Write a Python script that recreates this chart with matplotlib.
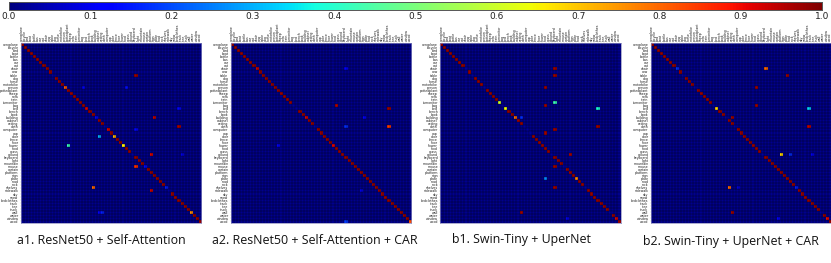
import numpy as np
import matplotlib
matplotlib.use("Agg")
import matplotlib.pyplot as plt

classes = ["aeroplane", "bicycle", "bird", "boat", "bottle", "bus", "car", "cat", "chair", "cow",
           "table", "dog", "horse", "motorbike", "person", "pottedplant", "sheep", "sofa", "train",
           "tvmonitor", "bag", "bed", "bench", "book", "building", "cabinet", "ceiling", "cloth",
           "computer", "cup", "door", "fence", "floor", "flower", "food", "grass", "ground",
           "keyboard", "light", "mountain", "mouse", "curtain", "platform", "sign", "plate", "road",
           "rock", "shelves", "sidewalk", "sky", "snow", "bedclothes", "track", "tree", "truck",
           "wall", "water", "window", "wood"]

# diagonal accuracy, one value per class
diag_a1 = [.98, .98, .98, .98, .98, .98, .98, .98, .98, .98, .03, .98, .98, .98, .82, .98, .98, .98, .98, .98,
           .98, .92, .98, .98, .12, .98, .98, .03, .92, .98, .72, .98, .98, .66, .98, .98, .03, .98, .98, .98,
           .13, .98, .98, .98, .98, .98, .98, .15, .03, .98, .98, .98, .98, .98, .98, .76, .98, .98, .98]
diag_a2 = [.98, .98, .98, .98, .98, .98, .98, .98, .93, .98, .98, .98, .98, .98, .98, .98, .98, .98, .98, .98,
           .03, .03, .98, .98, .92, .98, .98, .03, .98, .98, .98, .98, .98, .92, .98, .98, .98, .98, .98, .98,
           .98, .98, .98, .98, .98, .98, .98, .98, .98, .98, .98, .98, .98, .98, .98, .98, .98, .98, .83]
diag_b1 = [.98, .98, .98, .98, .98, .98, .98, .98, .03, .98, .03, .98, .98, .98, .03, .98, .98, .98, .98, .60,
           .03, .64, .98, .98, .80, .98, .98, .03, .03, .03, .98, .98, .98, .98, .98, .98, .03, .98, .98, .98,
           .03, .98, .98, .98, .77, .98, .98, .03, .98, .98, .98, .98, .98, .98, .98, .03, .98, .92, .98]
diag_b2 = [.98, .98, .98, .98, .98, .98, .98, .98, .17, .98, .03, .98, .98, .98, .03, .98, .98, .98, .98, .98,
           .03, .68, .98, .98, .03, .98, .98, .03, .98, .98, .98, .98, .98, .98, .98, .98, .03, .98, .98, .98,
           .98, .98, .98, .98, .98, .98, .98, .15, .98, .98, .98, .98, .98, .98, .98, .03, .98, .90, .98]

# off-diagonal confusion cells: (row, column, value)
off_a1 = [(10, 37, .97), (14, 20, .10), (14, 34, .14), (21, 51, .13), (24, 43, .94), (27, 51, .96),
          (28, 37, .13), (30, 25, .30), (33, 15, .42), (36, 42, .92), (36, 52, .09), (40, 37, .86),
          (47, 23, .80), (48, 42, .93), (55, 25, .11), (55, 26, .16)]
off_a2 = [(8, 37, .11), (20, 34, .95), (21, 51, .97), (24, 43, .12), (27, 37, .17), (27, 51, .85),
          (33, 15, .12), (48, 42, .09), (58, 37, .18)]
off_b1 = [(8, 37, .97), (10, 37, .97), (14, 34, .97), (19, 37, .42), (20, 34, .97), (21, 51, .38),
          (24, 26, .17), (27, 51, .97), (28, 37, .97), (29, 34, .97), (36, 42, .97), (40, 37, .97),
          (44, 34, .26), (47, 37, .97), (55, 26, .97), (57, 41, .10)]
off_b2 = [(8, 37, .80), (10, 44, .97), (14, 34, .97), (20, 34, .97), (21, 51, .33), (24, 26, .97),
          (27, 51, .94), (36, 42, .68), (36, 45, .17), (36, 52, .10), (47, 25, .80), (47, 28, .08),
          (55, 26, .97), (57, 41, .11)]

captions = ["a1. ResNet50 + Self-Attention", "a2. ResNet50 + Self-Attention + CAR",
            "b1. Swin-Tiny + UperNet", "b2. Swin-Tiny + UperNet + CAR"]
cbar_ticks = [0.0, 0.1, 0.2, 0.3, 0.4, 0.5, 0.6, 0.7, 0.8, 0.9, 1.0]

W, H = 831, 263
fig = plt.figure(figsize=(W / 100, H / 100), dpi=100)


def px_axes(x0, y0, x1, y1):
    return fig.add_axes([x0 / W, 1 - y1 / H, (x1 - x0) / W, (y1 - y0) / H])


panels = [(20.5, diag_a1, off_a1), (230.5, diag_a2, off_a2), (440.0, diag_b1, off_b1), (650.5, diag_b2, off_b2)]
cap_pos = [(101, 240), (315, 240), (521, 240), (731, 241.5)]
n = len(classes)
for (x0, diag, off), cap, (cx, cy) in zip(panels, captions, cap_pos):
    ax = px_axes(x0, 43, x0 + 180.5, 223)
    m = np.full((n, n), 0.015)
    for i, v in enumerate(diag):
        m[i, i] = v
    for r, c, v in off:
        m[r, c] = v
    ax.imshow(m, cmap="jet", vmin=0, vmax=1, aspect="auto", extent=(0, n, n, 0), interpolation="nearest")
    ax.vlines(np.arange(1, n), 0, n, color="black", linewidth=0.3, alpha=0.8)
    ax.hlines(np.arange(1, n), 0, n, color="black", linewidth=0.3, alpha=0.8)
    ax.set_xlim(0, n)
    ax.set_ylim(n, 0)
    ax.xaxis.tick_top()
    ax.set_xticks(np.arange(n) + .5, classes, rotation=90, fontsize=2.3, color="#222222")
    ax.set_yticks(np.arange(n) + .5, classes, fontsize=2.3, color="#222222")
    ax.tick_params(length=1, width=0.2, pad=0.4, color="#aaaaaa")
    for s in ax.spines.values():
        s.set_linewidth(0.5)
        s.set_color("#8888bb")
    fig.text(cx / W, 1 - cy / H, cap, ha="center", va="center", fontsize=8.9,
             family="Open Sans", color="#111111")

cax = px_axes(9, 1.5, 822, 10)
cax.imshow(np.linspace(0, 1, 512)[None, :], cmap="jet", aspect="auto", extent=(0, 1, 0, 1), vmin=0, vmax=1)
cax.set_yticks([])
cax.set_xticks(cbar_ticks, [f"{t:.1f}" for t in cbar_ticks], fontsize=6.5, color="#222222")
cax.tick_params(length=0, pad=1.5)
for s in cax.spines.values():
    s.set_linewidth(0.7)
    s.set_color("#555555")

fig.savefig("out.png", dpi=100)
